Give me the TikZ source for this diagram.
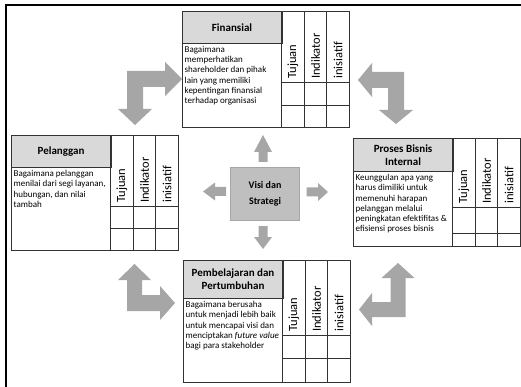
\documentclass[tikz,border=0pt]{standalone}
\usepackage{fontspec}
\setmainfont{Carlito}
\definecolor{kopabu}{HTML}{D9D9D9}
\definecolor{panahabu}{HTML}{A6A6A6}
\definecolor{visiabu}{HTML}{BFBFBF}

\tikzset{
  kop/.style={draw=black!80, fill=kopabu, line width=0.6pt, align=center, inner sep=0pt,
    font=\bfseries\fontsize{11}{13}\selectfont},
  isi/.style={align=left, inner sep=1pt, font=\fontsize{9}{10.3}\selectfont},
  kolom/.style={rotate=90, anchor=west, inner sep=1pt, font=\fontsize{12.5}{14}\selectfont},
  garis/.style={draw=black!80, line width=0.6pt},
  panah/.style={fill=panahabu, draw=none},
}

% #1 name, #2 left, #3 top, #4 header bottom, #5 column head bottom, #6 row, #7 bottom
\newcommand{\perspektif}[9]{%
  \node[kop, minimum width=99.5pt, minimum height=#4pt-#3pt, anchor=north west] (#1) at (#2,#3) {#8};
  \node[isi, anchor=north west] (#1-isi) at (#2+1.5,#4+2) {#9};
  \foreach \judul [count=\i from 0] in {Tujuan,Indikator,inisiatif}
    \node[kolom] (#1-\i) at ({#2+111+22.5*\i},#5-2) {\judul};
  \draw[garis] (#2,#3) rectangle ({#2+167},#7);
  \foreach \i in {0,1,2}
    \draw[garis] ({#2+99.5+22.5*\i},#3) -- ({#2+99.5+22.5*\i},#7);
  \draw[garis] ({#2+99.5},#5) -- ({#2+167},#5);
  \draw[garis] ({#2+99.5},#6) -- ({#2+167},#6);
}

\begin{document}
\begin{tikzpicture}[x=1pt, y=-1pt]
	\useasboundingbox (0,0) rectangle (521,387);

	\draw[line width=1.5pt] (6,387) -- (6,5) -- (521,5);

	\perspektif{finansial}{182}{11}{43}{82}{105}{127}{Finansial}
	  {Bagaimana\\memperhatikan\\shareholder dan pihak\\lain yang memiliki\\kepentingan finansial\\terhadap organisasi}
	\perspektif{pelanggan}{11}{135}{167}{206}{228.5}{250}{Pelanggan}
	  {Bagaimana pelanggan\\menilai dari segi layanan,\\hubungan, dan nilai\\tambah}
	\perspektif{proses}{353}{138}{171}{207}{233}{246}{Proses Bisnis\\Internal}
	  {Keunggulan apa yang\\harus dimiliki untuk\\memenuhi harapan\\pelanggan melalui\\peningkatan efektifitas \&\\efisiensi proses bisnis}
	\perspektif{belajar}{183}{260}{298}{335}{358.5}{382}{Pembelajaran dan\\Pertumbuhan}
	  {Bagaimana berusaha\\untuk menjadi lebih baik\\untuk mencapai visi dan\\menciptakan \textit{future value}\\bagi para stakeholder}

	\node[draw=black!35, fill=visiabu, minimum width=69pt, minimum height=53pt, align=center,
	  font=\bfseries\fontsize{10}{16}\selectfont] (visi) at (265,193.5) {Visi dan\\Strategi};

	% small arrows round the centre
	\fill[panah] (258.5,162) -- (258.5,152) -- (254,152) -- (263,135) -- (272,152) -- (267.5,152) -- (267.5,162) -- cycle;
	\fill[panah] (258.5,226) -- (258.5,237) -- (254,237) -- (263,249) -- (272,237) -- (267.5,237) -- (267.5,226) -- cycle;
	\fill[panah] (226,187) -- (215,187) -- (215,182.5) -- (203,191.5) -- (215,200.5) -- (215,196) -- (226,196) -- cycle;
	\fill[panah] (306.5,187.5) -- (318,187.5) -- (318,183) -- (328,192) -- (318,201) -- (318,196.5) -- (306.5,196.5) -- cycle;

	% bent arrows in the corners
	\fill[panah] (127,71) -- (165,71) -- (165,62) -- (182,79) -- (165,96) -- (165,87) -- (143,87) -- (143,109)
	  -- (152,109) -- (135,125) -- (118,109) -- (127,109) -- cycle;
	\fill[panah] (404,72) -- (372,72) -- (372,63) -- (358,80) -- (372,97) -- (372,88) -- (388,88) -- (388,110)
	  -- (379,110) -- (396,124) -- (413,110) -- (404,110) -- cycle;
	\fill[panah] (127,311) -- (127,280) -- (118,280) -- (134.5,264) -- (151,280) -- (142,280) -- (142,295)
	  -- (160,295) -- (160,286) -- (175,303) -- (160,320) -- (160,311) -- cycle;
	\fill[panah] (405.5,317) -- (405.5,278) -- (414.5,278) -- (398,263) -- (381.5,278) -- (390.5,278) -- (390.5,302)
	  -- (372,302) -- (372,293) -- (359,309.5) -- (372,326) -- (372,317) -- cycle;

\end{tikzpicture}
\end{document}
